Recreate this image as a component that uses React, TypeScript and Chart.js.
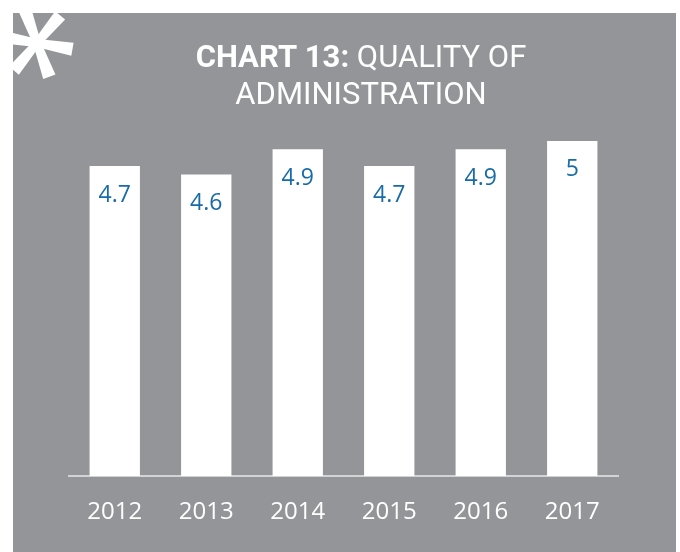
import React, { useEffect, useRef } from "react";
import { Chart, registerables } from "chart.js";

Chart.register(...registerables);

const years = ["2012", "2013", "2014", "2015", "2016", "2017"];
const scores = [4.7, 4.6, 4.9, 4.7, 4.9, 5];
const valueLabels = ["4.7", "4.6", "4.9", "4.7", "4.9", "5"];
const titleBold = "CHART 13:";
const titleRest = " QUALITY OF";
const titleLine2 = "ADMINISTRATION";

const GRAY = "#939598";
const BLUE = "#176ba6";

const decorPlugin = {
  id: "decor",
  beforeDraw(chart: any) {
    const ctx = chart.ctx as CanvasRenderingContext2D;
    ctx.save();
    ctx.fillStyle = "#ffffff";
    ctx.fillRect(0, 0, chart.width, chart.height);
    ctx.fillStyle = GRAY;
    ctx.fillRect(13, 13, 663, 539);
    // asterisk (tapered arms, wider at the ends)
    ctx.save();
    ctx.beginPath();
    ctx.rect(13, 13, 663, 539);
    ctx.clip();
    ctx.fillStyle = "#ffffff";
    const cx = 37, cy = 43, len = 36, wIn = 4, wOut = 6.5;
    [10, 70, 130, 190, 250, 310].forEach((deg) => {
      const a = (deg * Math.PI) / 180;
      const dx = Math.cos(a), dy = Math.sin(a);
      const px = -dy, py = dx;
      ctx.beginPath();
      ctx.moveTo(cx + px * wIn, cy + py * wIn);
      ctx.lineTo(cx + dx * len + px * wOut, cy + dy * len + py * wOut);
      ctx.lineTo(cx + dx * len - px * wOut, cy + dy * len - py * wOut);
      ctx.lineTo(cx - px * wIn, cy - py * wIn);
      ctx.closePath();
      ctx.fill();
    });
    ctx.beginPath();
    ctx.arc(cx, cy, 5, 0, Math.PI * 2);
    ctx.fill();
    ctx.restore();
    // title
    ctx.fillStyle = "#ffffff";
    ctx.textBaseline = "alphabetic";
    ctx.textAlign = "left";
    const size = 31;
    ctx.font = `bold ${size}px Roboto`;
    const wb = ctx.measureText(titleBold).width;
    ctx.font = `${size}px Roboto`;
    const wr = ctx.measureText(titleRest).width;
    const centerX = 361;
    const x = centerX - (wb + wr) / 2;
    ctx.font = `bold ${size}px Roboto`;
    ctx.fillText(titleBold, x, 67);
    ctx.font = `${size}px Roboto`;
    ctx.fillText(titleRest, x + wb, 67);
    ctx.textAlign = "center";
    ctx.fillText(titleLine2, centerX, 104);
    ctx.restore();
  },
  afterDatasetsDraw(chart: any) {
    const ctx = chart.ctx as CanvasRenderingContext2D;
    const meta = chart.getDatasetMeta(0);
    ctx.save();
    ctx.fillStyle = BLUE;
    ctx.font = "23px 'Open Sans'";
    ctx.textAlign = "center";
    ctx.textBaseline = "middle";
    meta.data.forEach((bar: any, i: number) => {
      ctx.fillText(valueLabels[i], bar.x, bar.y + 29);
    });
    ctx.restore();
  },
};

export default function App() {
  const ref = useRef<HTMLCanvasElement | null>(null);
  useEffect(() => {
    if (!ref.current) return;
    const chart = new Chart(ref.current, {
      type: "bar",
      data: {
        labels: years,
        datasets: [
          {
            data: scores,
            backgroundColor: "#ffffff",
            borderWidth: 0,
            barPercentage: 0.55,
            categoryPercentage: 1,
          },
        ],
      },
      options: {
        responsive: false,
        animation: false,
        layout: { padding: { left: 69, right: 62, top: 99, bottom: 0 } },
        plugins: {
          legend: { display: false },
          tooltip: { enabled: false },
          title: { display: false },
        },
        scales: {
          x: {
            grid: { display: false, drawTicks: false },
            border: { display: true, color: "#d1d3d4", width: 2 },
            ticks: {
              color: "#ffffff",
              font: { family: "'Open Sans'", size: 24 },
              padding: 22,
            },
            afterFit: (s: any) => {
              s.height = 76;
            },
          },
          y: {
            display: false,
            min: 1,
            max: 5.5,
          },
        },
      },
      plugins: [decorPlugin],
    });
    return () => chart.destroy();
  }, []);
  return (
    <div style={{ position: "fixed", left: 0, top: 0, width: 680, height: 552 }}>
      <canvas ref={ref} width={680} height={552} style={{ display: "block" }} />
    </div>
  );
}
